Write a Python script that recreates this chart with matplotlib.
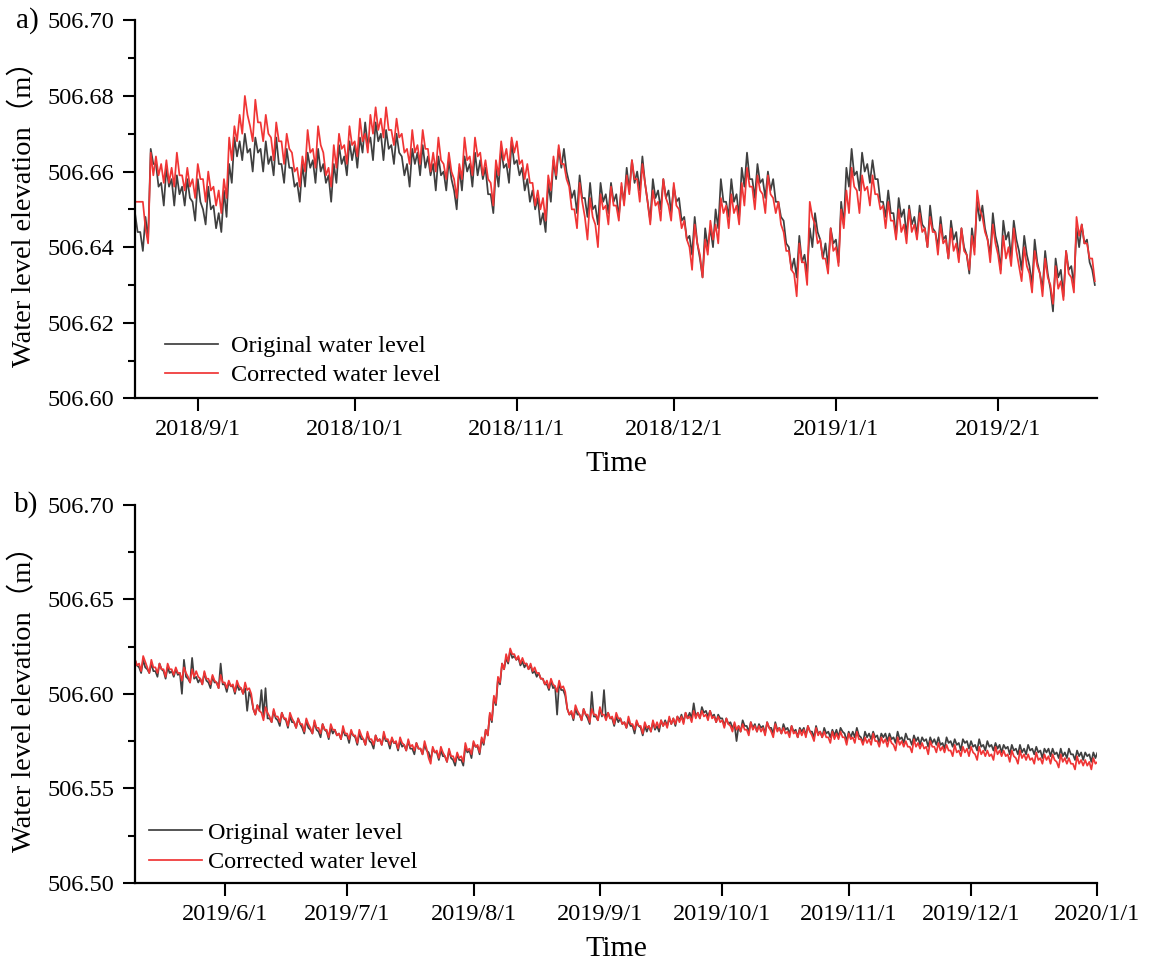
import numpy as np
import pandas as pd
import matplotlib
matplotlib.use("Agg")
import matplotlib.pyplot as plt
import matplotlib.dates as mdates
from matplotlib.ticker import MultipleLocator, FuncFormatter

plt.rcParams['font.family'] = ['Liberation Serif', 'Noto Sans CJK SC']

# panel a: two readings a day, mm above 506.600 m, from 2018/8/20
BASE_A = 506.600
START_A = '2018-08-20'
orig_a = [49, 44, 44, 39, 48, 42, 66, 62, 62, 56, 57, 51, 61, 56, 58, 51, 59, 54, 56, 51,
          58, 53, 52, 47, 58, 52, 50, 46, 56, 50, 51, 45, 49, 44, 55, 48, 62, 57, 69, 64,
          68, 63, 70, 65, 66, 60, 69, 65, 66, 60, 68, 62, 64, 59, 69, 62, 62, 57, 66, 61,
          61, 56, 57, 52, 62, 56, 65, 61, 63, 57, 66, 60, 62, 57, 59, 52, 62, 57, 67, 62,
          64, 59, 68, 63, 67, 61, 69, 65, 73, 67, 69, 63, 73, 68, 70, 63, 71, 66, 67, 62,
          70, 65, 64, 59, 62, 56, 66, 62, 65, 59, 67, 61, 64, 59, 62, 55, 64, 59, 60, 55,
          63, 58, 55, 50, 61, 55, 64, 60, 62, 56, 65, 59, 63, 58, 61, 54, 54, 49, 61, 56,
          66, 61, 62, 57, 68, 62, 63, 59, 61, 55, 58, 52, 55, 50, 53, 46, 49, 44, 57, 52,
          63, 58, 66, 61, 66, 60, 57, 53, 55, 49, 59, 53, 53, 48, 57, 50, 51, 46, 57, 52,
          54, 49, 57, 52, 54, 48, 56, 52, 61, 55, 63, 57, 60, 55, 64, 57, 52, 47, 58, 53,
          55, 50, 58, 53, 55, 49, 56, 52, 53, 47, 48, 42, 43, 38, 48, 41, 37, 32, 45, 40,
          45, 40, 50, 45, 58, 52, 52, 48, 58, 52, 54, 48, 61, 56, 65, 58, 58, 53, 62, 57,
          58, 53, 60, 55, 58, 52, 52, 48, 47, 41, 40, 34, 37, 32, 43, 36, 38, 33, 45, 40,
          49, 44, 42, 37, 41, 35, 45, 41, 42, 36, 52, 46, 61, 56, 66, 59, 60, 55, 65, 60,
          62, 57, 63, 58, 58, 52, 52, 48, 55, 49, 49, 43, 53, 48, 50, 43, 51, 46, 48, 43,
          51, 46, 45, 40, 51, 45, 44, 40, 48, 42, 43, 37, 47, 42, 44, 37, 45, 40, 38, 33,
          45, 40, 52, 47, 51, 45, 42, 38, 49, 43, 40, 34, 47, 42, 44, 37, 47, 42, 39, 34,
          43, 38, 35, 30, 42, 36, 33, 29, 39, 33, 29, 23, 37, 32, 34, 27, 39, 34, 35, 30,
          45, 40, 46, 41, 42, 36, 34, 30]
corr_a = [52, 52, 52, 52, 45, 41, 65, 59, 64, 59, 62, 57, 63, 57, 61, 56, 65, 59, 59, 55,
          61, 56, 58, 53, 62, 58, 58, 52, 60, 55, 56, 51, 55, 49, 58, 53, 69, 63, 72, 68,
          75, 70, 80, 75, 72, 68, 79, 73, 73, 68, 75, 70, 69, 63, 73, 68, 68, 62, 70, 66,
          65, 60, 61, 56, 64, 60, 71, 65, 66, 61, 72, 67, 65, 59, 61, 56, 67, 61, 70, 66,
          67, 62, 72, 67, 68, 64, 74, 68, 70, 65, 75, 70, 77, 71, 74, 69, 77, 71, 71, 67,
          74, 69, 70, 65, 66, 62, 71, 65, 67, 62, 71, 66, 66, 60, 65, 60, 69, 63, 62, 58,
          65, 60, 58, 53, 62, 58, 69, 63, 64, 59, 69, 64, 65, 59, 63, 58, 57, 51, 63, 59,
          68, 63, 66, 61, 69, 65, 68, 62, 63, 58, 62, 57, 57, 51, 55, 50, 53, 47, 59, 55,
          64, 59, 67, 62, 62, 58, 56, 50, 50, 45, 57, 52, 48, 42, 53, 48, 46, 40, 54, 50,
          51, 46, 56, 51, 51, 47, 57, 51, 59, 54, 63, 58, 58, 52, 62, 57, 52, 46, 55, 51,
          52, 47, 58, 53, 51, 47, 57, 51, 50, 45, 47, 42, 40, 34, 46, 41, 38, 32, 42, 38,
          47, 42, 46, 41, 53, 49, 51, 45, 54, 49, 51, 46, 57, 51, 61, 56, 56, 50, 59, 55,
          54, 49, 59, 54, 53, 49, 52, 46, 44, 39, 39, 34, 33, 27, 41, 36, 36, 30, 52, 48,
          46, 41, 42, 37, 37, 33, 45, 39, 40, 35, 50, 45, 55, 49, 61, 56, 55, 49, 59, 55,
          56, 51, 59, 54, 54, 50, 51, 45, 52, 47, 47, 42, 50, 44, 46, 41, 50, 44, 46, 42,
          49, 44, 45, 40, 48, 44, 44, 38, 46, 41, 42, 37, 45, 39, 41, 36, 45, 39, 38, 34,
          43, 38, 55, 50, 48, 44, 42, 36, 46, 41, 38, 33, 43, 37, 40, 35, 45, 39, 35, 31,
          40, 35, 33, 28, 39, 35, 33, 27, 37, 32, 30, 25, 35, 29, 31, 26, 39, 33, 32, 28,
          48, 43, 46, 41, 41, 37, 37, 31]

# panel b: two readings a day, mm above 506.500 m, from 2019/5/10
BASE_B = 506.500
START_B = '2019-05-10'
orig_b = [118, 115, 114, 111, 118, 114, 113, 111, 116, 112, 112, 109, 116, 113, 112, 108, 114, 111, 112, 109,
          113, 110, 111, 100, 118, 109, 108, 106, 119, 108, 109, 106, 108, 105, 111, 107, 106, 103, 109, 106,
          106, 103, 116, 105, 105, 101, 106, 104, 104, 100, 105, 102, 103, 100, 103, 91, 101, 98, 92, 89,
          94, 91, 102, 88, 103, 87, 87, 85, 91, 87, 86, 83, 90, 87, 86, 82, 88, 85, 85, 82,
          87, 84, 82, 79, 86, 82, 81, 79, 85, 81, 80, 77, 84, 81, 80, 76, 82, 79, 81, 78,
          79, 76, 81, 78, 78, 74, 80, 78, 77, 73, 79, 76, 76, 73, 79, 75, 74, 71, 78, 75,
          76, 73, 78, 75, 75, 71, 76, 74, 74, 70, 75, 72, 73, 70, 75, 71, 71, 68, 74, 71,
          71, 68, 73, 70, 69, 65, 71, 69, 69, 65, 70, 67, 67, 64, 70, 66, 65, 62, 68, 65,
          65, 62, 72, 69, 70, 66, 74, 72, 72, 68, 76, 73, 81, 78, 89, 85, 98, 94, 108, 105,
          116, 113, 119, 116, 123, 119, 120, 118, 119, 115, 117, 114, 116, 113, 115, 111, 112, 109, 111, 108,
          108, 105, 105, 102, 107, 103, 104, 89, 106, 102, 102, 99, 92, 89, 90, 86, 92, 89, 89, 86,
          92, 89, 87, 84, 101, 88, 88, 86, 92, 88, 102, 87, 90, 87, 87, 83, 88, 85, 87, 84,
          85, 82, 86, 83, 83, 79, 85, 83, 82, 78, 83, 80, 83, 80, 85, 81, 83, 80, 86, 83,
          86, 83, 87, 84, 87, 83, 88, 86, 89, 85, 90, 87, 90, 87, 95, 88, 90, 87, 93, 90,
          91, 88, 91, 88, 89, 85, 89, 87, 87, 83, 87, 84, 85, 82, 84, 75, 83, 80, 86, 83,
          83, 80, 85, 82, 84, 80, 84, 82, 83, 79, 85, 82, 82, 79, 85, 81, 82, 79, 84, 81,
          82, 79, 83, 80, 81, 77, 82, 80, 82, 78, 83, 80, 80, 77, 83, 79, 80, 77, 82, 79,
          80, 77, 81, 78, 81, 77, 82, 80, 79, 75, 80, 77, 80, 77, 82, 78, 77, 74, 80, 77,
          79, 76, 80, 77, 78, 74, 79, 77, 79, 75, 79, 76, 77, 74, 80, 76, 77, 74, 79, 76,
          76, 73, 78, 75, 77, 73, 77, 75, 76, 72, 77, 74, 76, 73, 77, 73, 74, 71, 77, 74,
          75, 72, 76, 73, 74, 70, 76, 74, 75, 71, 75, 72, 73, 70, 76, 72, 73, 70, 75, 72,
          73, 70, 74, 71, 73, 69, 73, 71, 72, 68, 73, 70, 71, 68, 73, 69, 71, 68, 73, 70,
          71, 68, 72, 69, 70, 66, 71, 69, 71, 67, 71, 68, 69, 66, 71, 67, 69, 66, 71, 68,
          68, 65, 70, 67, 69, 65, 69, 67, 68, 64, 69, 66, 69, 66]
corr_b = [118, 115, 116, 112, 120, 117, 114, 111, 118, 114, 114, 111, 116, 113, 113, 109, 116, 113, 113, 110,
          114, 111, 111, 107, 114, 111, 109, 106, 113, 109, 112, 109, 108, 105, 112, 108, 108, 105, 110, 107,
          106, 103, 110, 106, 106, 103, 107, 104, 105, 101, 107, 104, 103, 100, 106, 102, 103, 100, 92, 89,
          94, 91, 90, 86, 93, 90, 88, 85, 92, 88, 88, 85, 90, 87, 87, 83, 90, 87, 85, 82,
          87, 84, 84, 80, 87, 84, 82, 79, 86, 82, 82, 79, 84, 81, 81, 77, 84, 81, 81, 78,
          79, 76, 83, 79, 79, 76, 81, 78, 78, 74, 81, 78, 76, 73, 80, 76, 76, 73, 78, 75,
          76, 73, 80, 76, 76, 73, 77, 74, 75, 71, 77, 74, 73, 70, 76, 72, 73, 70, 74, 71,
          71, 68, 75, 71, 66, 63, 72, 69, 70, 66, 72, 69, 67, 64, 71, 67, 67, 64, 69, 66,
          67, 64, 74, 70, 71, 68, 75, 72, 73, 69, 77, 74, 81, 78, 90, 86, 99, 95, 109, 106,
          116, 113, 121, 117, 124, 121, 121, 118, 120, 116, 119, 116, 116, 113, 116, 112, 114, 111, 111, 108,
          108, 105, 107, 103, 108, 105, 104, 101, 107, 103, 104, 101, 92, 89, 91, 87, 94, 91, 89, 86,
          92, 89, 89, 85, 92, 89, 89, 86, 93, 89, 89, 86, 90, 87, 88, 84, 90, 87, 87, 84,
          85, 82, 88, 84, 84, 81, 86, 83, 83, 79, 85, 82, 83, 80, 86, 82, 85, 82, 86, 83,
          85, 82, 88, 84, 87, 84, 88, 85, 88, 84, 90, 87, 88, 85, 91, 87, 90, 87, 91, 88,
          89, 86, 91, 87, 88, 85, 88, 85, 86, 82, 87, 84, 83, 80, 85, 81, 83, 80, 84, 81,
          81, 78, 85, 81, 83, 80, 83, 80, 82, 78, 85, 82, 80, 77, 84, 80, 82, 79, 82, 79,
          80, 77, 83, 79, 80, 77, 81, 78, 81, 77, 83, 80, 78, 75, 82, 78, 80, 77, 80, 77,
          77, 74, 80, 76, 79, 76, 80, 77, 77, 73, 79, 76, 77, 74, 80, 76, 76, 73, 77, 74,
          76, 73, 79, 75, 75, 72, 77, 74, 76, 72, 77, 74, 73, 70, 77, 73, 75, 72, 75, 72,
          72, 69, 76, 72, 74, 71, 74, 71, 72, 68, 75, 72, 72, 69, 74, 70, 72, 69, 73, 70,
          70, 67, 73, 69, 70, 67, 72, 69, 71, 67, 72, 69, 68, 65, 72, 68, 70, 67, 70, 67,
          68, 65, 72, 68, 70, 67, 70, 67, 68, 64, 70, 67, 66, 63, 70, 66, 68, 65, 68, 65,
          66, 63, 69, 65, 66, 63, 68, 65, 67, 63, 68, 65, 64, 61, 68, 64, 66, 63, 66, 63,
          63, 60, 67, 63, 65, 62, 65, 62, 64, 60, 66, 63, 64, 61]

ticks_a = ['2018-09-01', '2018-10-01', '2018-11-01', '2018-12-01', '2019-01-01', '2019-02-01']
ticks_b = ['2019-06-01', '2019-07-01', '2019-08-01', '2019-09-01', '2019-10-01',
           '2019-11-01', '2019-12-01', '2020-01-01']

GRAY = '#3f3f3f'
RED = '#f03535'
FS = 17.5


def date_fmt(x, pos):
    d = mdates.num2date(x)
    return f"{d.year}/{d.month}/{d.day}"


def panel(ax, start, orig, corr, base, xlim, ticks, ylim, major, minor, tag, leg_anchor, textpad):
    t = pd.date_range(start, periods=len(orig), freq='12h')
    ax.plot(t, base + np.array(orig) / 1000.0, color=GRAY, lw=1.25, label='Original water level')
    ax.plot(t, base + np.array(corr) / 1000.0, color=RED, lw=1.25, label='Corrected water level')
    ax.set_xlim(pd.Timestamp(xlim[0]), pd.Timestamp(xlim[1]))
    ax.set_ylim(*ylim)
    ax.set_xticks([pd.Timestamp(s) for s in ticks])
    ax.xaxis.set_major_formatter(FuncFormatter(date_fmt))
    ax.yaxis.set_major_locator(MultipleLocator(major))
    ax.yaxis.set_minor_locator(MultipleLocator(minor))
    ax.yaxis.set_major_formatter(FuncFormatter(lambda v, p: f"{v:.2f}"))
    for s in ('top', 'right'):
        ax.spines[s].set_visible(False)
    for s in ('left', 'bottom'):
        ax.spines[s].set_linewidth(1.6)
    ax.tick_params(which='major', direction='out', length=9, width=1.5, labelsize=FS, pad=6)
    ax.tick_params(which='minor', direction='out', length=5, width=1.5)
    ax.set_xlabel('Time', fontsize=21.5, labelpad=8)
    ax.set_ylabel('Water level elevation（m）', fontsize=20.5,
                  family=['Liberation Serif', 'Noto Sans CJK SC'])
    ax.yaxis.set_label_coords(-0.102, 0.505)
    ax.text(-0.1, 1.0, tag, transform=ax.transAxes, fontsize=21, va='center', ha='right')
    ax.legend(loc='lower left', bbox_to_anchor=leg_anchor, frameon=False, fontsize=FS,
              handlelength=2.2, handletextpad=textpad, labelspacing=0.3, borderaxespad=0)


fig = plt.figure(figsize=(11.54, 9.67), dpi=100)
ax1 = fig.add_axes([0.117, 0.588, 0.834, 0.391])
ax2 = fig.add_axes([0.117, 0.087, 0.834, 0.391])

panel(ax1, START_A, orig_a, corr_a, BASE_A, ('2018-08-20', '2019-02-20'), ticks_a,
      (506.60, 506.70), 0.02, 0.01, 'a)', (0.021, 0.006), 0.5)
panel(ax2, START_B, orig_b, corr_b, BASE_B, ('2019-05-10', '2020-01-01'), ticks_b,
      (506.50, 506.70), 0.05, 0.025, 'b)', (0.004, 0.0), 0.25)

fig.savefig('out.png', dpi=100)
